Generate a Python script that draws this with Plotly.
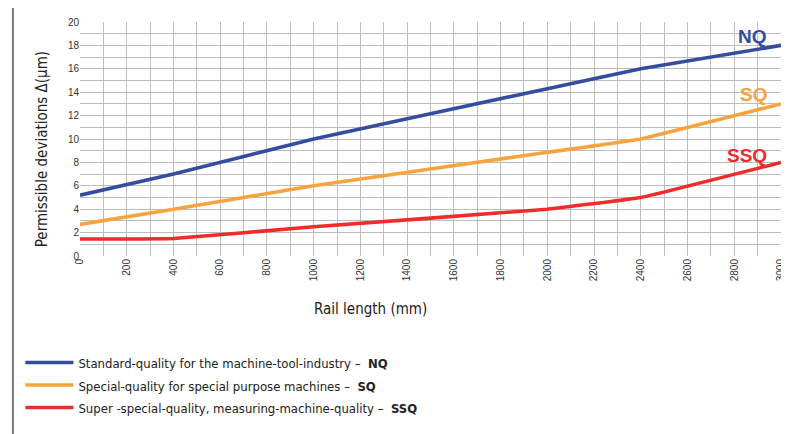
import plotly.graph_objects as go

rail_length = [0, 400, 1000, 2000, 2400, 3000]
nq = [5.2, 7.0, 10.0, 14.3, 16.0, 18.0]
sq = [2.7, 4.0, 6.0, 8.86, 10.0, 13.0]
ssq = [1.45, 1.5, 2.5, 4.0, 5.0, 8.0]

series_names = [
    "Standard-quality for the machine-tool-industry –  <b>NQ</b>",
    "Special-quality for special purpose machines –  <b>SQ</b>",
    "Super -special-quality, measuring-machine-quality –  <b>SSQ</b>",
]
short_labels = ["NQ", "SQ", "SSQ"]
label_y = [18.8, 13.8, 8.55]
colors = ["#354DA0", "#F9A33E", "#EE2C2C"]

NARROW = "DejaVu Sans Condensed, Liberation Sans Narrow, Roboto, sans-serif"

fig = go.Figure()
for vals, name, col in zip([nq, sq, ssq], series_names, colors):
    fig.add_trace(go.Scatter(
        x=rail_length, y=vals, mode="lines",
        name=f'<span style="font-size:13px">{name}</span>',
        line=dict(color=col, width=3.6, shape="spline", smoothing=0.25),
    ))

for lab, ly, col in zip(short_labels, label_y, colors):
    fig.add_annotation(
        x=2950, y=ly, xref="x", yref="y", text=f"<b>{lab}</b>",
        showarrow=False, xanchor="right", yanchor="middle",
        font=dict(family="Liberation Sans, Arial", size=19, color=col),
    )

fig.add_annotation(
    x=0.414, y=-0.2265, xref="paper", yref="paper", text="Rail length (mm)",
    showarrow=False, xanchor="center", yanchor="middle",
    font=dict(family=NARROW, size=15, color="#222"),
)
fig.add_annotation(
    x=-0.0539, y=0.457, xref="paper", yref="paper", text="Permissible deviations Δ(µm)",
    showarrow=False, xanchor="center", yanchor="middle", textangle=-90,
    font=dict(family=NARROW, size=15, color="#222"),
)

# frame lines (decoration)
fig.add_shape(type="line", xref="paper", yref="paper", x0=-0.0957, x1=1.05,
              y0=1.0726, y1=1.0726, line=dict(color="#555", width=2))
fig.add_shape(type="line", xref="paper", yref="paper", x0=-0.0957, x1=-0.0957,
              y0=1.0726, y1=-0.80, line=dict(color="#777", width=2))

grid_col = "#BDBDBD"
fig.update_xaxes(
    range=[0, 3000], dtick=200, tick0=0, tickangle=-90, automargin=False,
    showgrid=True, gridcolor=grid_col, gridwidth=1, zeroline=False,
    minor=dict(dtick=100, showgrid=True, gridcolor=grid_col, gridwidth=1),
    tickfont=dict(family="Liberation Sans, Arial", size=10, color="#333"),
    showline=False, ticks="",
)
fig.update_yaxes(
    range=[0, 20], dtick=2, tick0=0, automargin=False,
    showgrid=True, gridcolor=grid_col, gridwidth=1, zeroline=False,
    minor=dict(dtick=1, showgrid=True, gridcolor=grid_col, gridwidth=1),
    tickfont=dict(family="Liberation Sans, Arial", size=10, color="#333"),
    showline=False, ticks="",
)

fig.update_layout(
    width=789, height=434,
    margin=dict(l=68, r=16, t=14, b=186),
    paper_bgcolor="white", plot_bgcolor="white",
    showlegend=True,
    legend=dict(
        x=-0.085, y=-0.386, xanchor="left", yanchor="top",
        orientation="v", itemwidth=48,
        font=dict(family=NARROW, size=15, color="#222"),
        bgcolor="rgba(0,0,0,0)", tracegroupgap=0,
    ),
)

fig.write_html("out.html")
